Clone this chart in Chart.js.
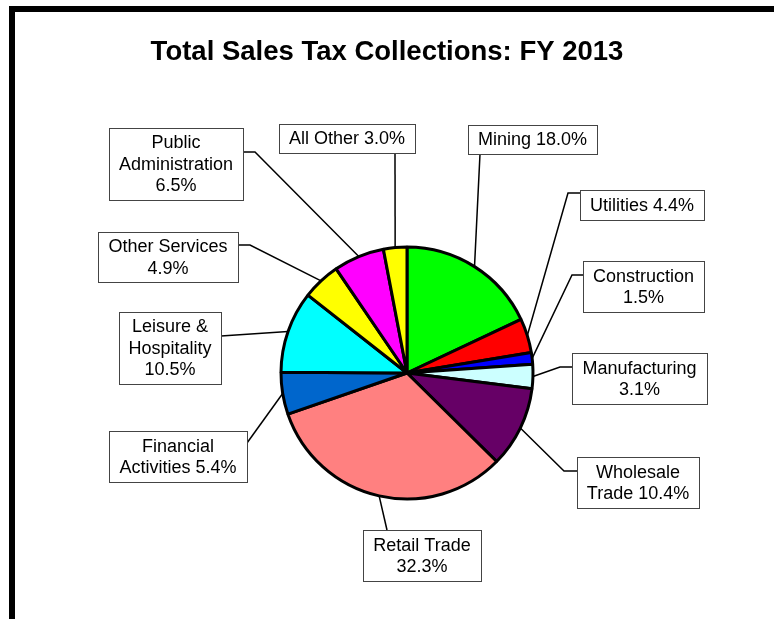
<!DOCTYPE html>
<html lang="en">
<head>
  <meta charset="UTF-8">
  <title>Total Sales Tax Collections: FY 2013</title>
  <script src="https://cdn.jsdelivr.net/npm/chart.js"></script>
  <style>
    html, body { margin: 0; padding: 0; background: #fff; }
    .wrap { width: 774px; height: 619px; position: relative; }
  </style>
</head>
<body>
  <div class="wrap">
    <canvas id="pie"></canvas>
  </div>

  <script>
    // data
    const title = 'Total Sales Tax Collections: FY 2013';
    const categories = ['Mining', 'Utilities', 'Construction', 'Manufacturing', 'Wholesale Trade',
      'Retail Trade', 'Financial Activities', 'Leisure & Hospitality', 'Other Services',
      'Public Administration', 'All Other'];
    const shares = [18.0, 4.4, 1.5, 3.1, 10.4, 32.3, 5.4, 10.5, 4.9, 6.5, 3.0];
    const sliceColors = ['#00ff00', '#ff0000', '#0000ff', '#ccffff', '#660066',
      '#ff8080', '#0066cc', '#00ffff', '#ffff00', '#ff00ff', '#ffff00'];

    // label boxes: [x, y, w, h]
    const labelBoxes = [
      [468, 125, 129, 29],
      [580, 190, 124, 30],
      [583, 261, 121, 51],
      [572, 353, 135, 51],
      [577, 457, 122, 51],
      [363, 530, 118, 51],
      [109, 431, 138, 51],
      [119, 312, 102, 72],
      [98, 232, 140, 50],
      [109, 128, 134, 72],
      [279, 124, 136, 29]
    ];
    // leader start on box [x, y] and optional elbow x (same y)
    const leaders = [
      [492, 154, 480],
      [580, 193, 568],
      [583, 275, 572],
      [572, 367, 560],
      [577, 471, 564],
      [387, 530, null],
      [247, 443, null],
      [221, 336, null],
      [238, 245, 250],
      [243, 152, 255],
      [395, 153, null]
    ];

    const FONT = '"Liberation Sans", Arial, sans-serif';

    function wrapText(ctx, text, maxW) {
      const words = text.split(' ');
      const lines = [];
      let cur = '';
      words.forEach(w => {
        const t = cur ? cur + ' ' + w : w;
        if (cur && ctx.measureText(t).width > maxW) {
          lines.push(cur);
          cur = w;
        } else {
          cur = t;
        }
      });
      if (cur) lines.push(cur);
      return lines;
    }

    const decorPlugin = {
      id: 'decor',
      beforeDraw(chart) {
        const ctx = chart.ctx;
        ctx.save();
        ctx.fillStyle = '#fff';
        ctx.fillRect(0, 0, chart.width, chart.height);
        // frame
        ctx.fillStyle = '#000';
        ctx.fillRect(9, 6, chart.width, 6);
        ctx.fillRect(9, 6, 6, chart.height);
        // title
        ctx.font = 'bold 27.5px ' + FONT;
        ctx.textAlign = 'center';
        ctx.textBaseline = 'middle';
        ctx.fillText(title, 387, 52);
        ctx.restore();
      },
      afterDraw(chart) {
        const ctx = chart.ctx;
        const arcs = chart.getDatasetMeta(0).data;
        ctx.save();
        ctx.font = '18px ' + FONT;
        ctx.textAlign = 'center';
        ctx.textBaseline = 'middle';
        arcs.forEach((arc, i) => {
          const p = arc.getProps(['x', 'y', 'startAngle', 'endAngle', 'outerRadius'], true);
          const mid = (p.startAngle + p.endAngle) / 2;
          const ex = p.x + Math.cos(mid) * p.outerRadius;
          const ey = p.y + Math.sin(mid) * p.outerRadius;
          const [lx, ly, elbow] = leaders[i];
          ctx.strokeStyle = '#000';
          ctx.lineWidth = 1.5;
          ctx.beginPath();
          ctx.moveTo(lx, ly);
          if (elbow !== null) ctx.lineTo(elbow, ly);
          ctx.lineTo(ex, ey);
          ctx.stroke();

          const [bx, by, bw, bh] = labelBoxes[i];
          ctx.fillStyle = '#fff';
          ctx.fillRect(bx, by, bw, bh);
          ctx.strokeStyle = '#444';
          ctx.lineWidth = 1;
          ctx.strokeRect(bx + 0.5, by + 0.5, bw, bh);

          const text = categories[i] + ' ' + shares[i].toFixed(1) + '%';
          const lines = wrapText(ctx, text, bw - 10);
          const lh = 21.5;
          const cy = by + bh / 2 + 1;
          ctx.fillStyle = '#000';
          lines.forEach((ln, k) => {
            ctx.fillText(ln, bx + bw / 2, cy + (k - (lines.length - 1) / 2) * lh);
          });
        });
        ctx.restore();
      }
    };

    const chart = new Chart(document.getElementById('pie'), {
      type: 'pie',
      data: {
        labels: categories,
        datasets: [{
          data: shares,
          backgroundColor: sliceColors,
          borderColor: '#000',
          borderWidth: 3,
          radius: 126
        }]
      },
      options: {
        responsive: true,
        maintainAspectRatio: false,
        animation: false,
        layout: {
          padding: { left: 160, right: 120, top: 200, bottom: 73 }
        },
        plugins: {
          legend: { display: false },
          tooltip: { enabled: false },
          title: { display: false }
        }
      },
      plugins: [decorPlugin]
    });
  </script>
</body>
</html>
